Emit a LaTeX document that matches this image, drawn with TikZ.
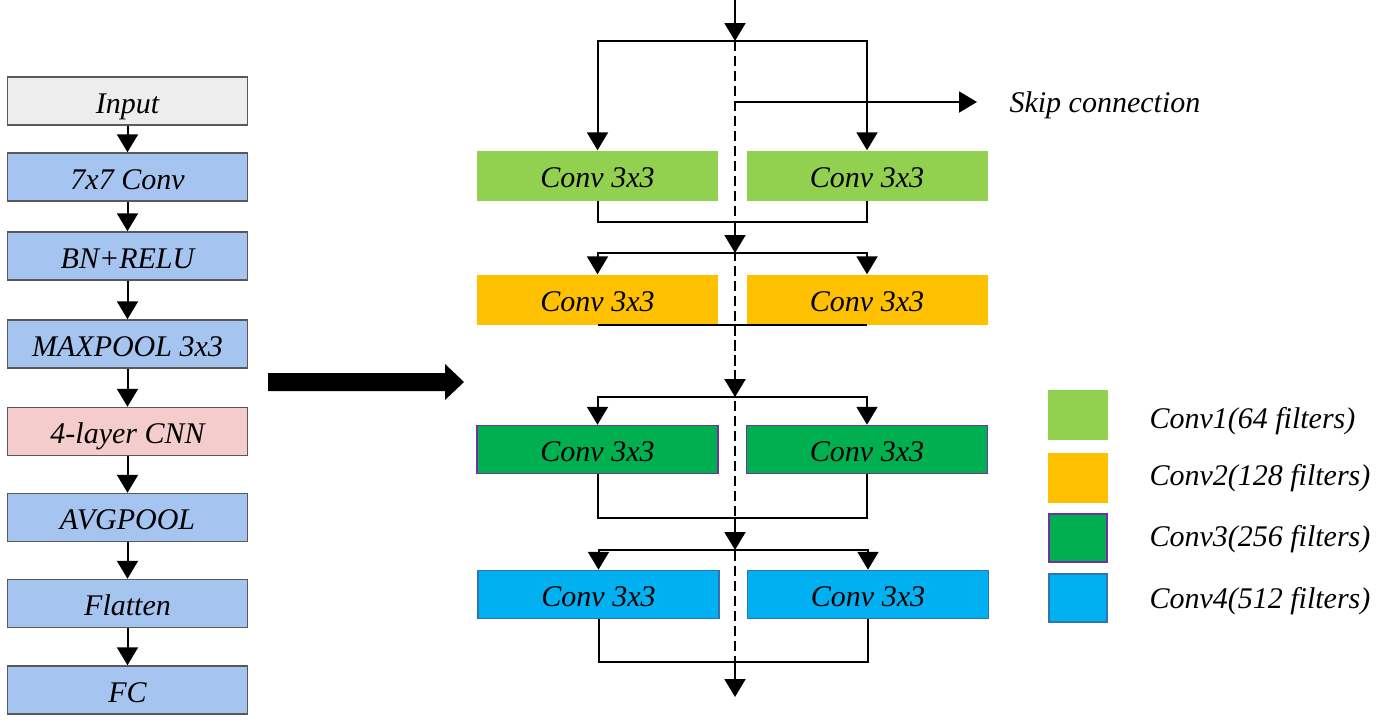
\documentclass[tikz,border=0pt]{standalone}
\usepackage{fontspec}
\setmainfont{Liberation Serif}
\usetikzlibrary{arrows.meta}
\definecolor{lgray}{HTML}{EDEDED}
\definecolor{lblue}{HTML}{A6C4F0}
\definecolor{lpink}{HTML}{F4CCCC}
\definecolor{bord}{HTML}{595959}
\definecolor{cgreen}{HTML}{92D050}
\definecolor{corange}{HTML}{FFC000}
\definecolor{cdgreen}{HTML}{00B050}
\definecolor{cpurple}{HTML}{7030A0}
\definecolor{cblue}{HTML}{00B0F0}
\definecolor{cbblue}{HTML}{2E75B6}
\tikzset{
  txt/.style={font=\fontsize{30}{33}\selectfont\itshape, text height=26pt, text depth=2pt},
  lbox/.style={txt, draw=bord, line width=1.5pt, minimum width=240pt, minimum height=48pt, inner sep=0pt},
  cbox/.style={txt, minimum width=241pt, minimum height=50pt, inner sep=0pt},
  legbox/.style={minimum width=60pt, minimum height=50pt, inner sep=0pt},
  arr/.style={line width=2pt, -{Triangle[width=21pt,length=18pt]}},
  ln/.style={line width=2pt},
}
\begin{document}
\begin{tikzpicture}[x=1pt,y=-1pt]
\useasboundingbox (0,0) rectangle (1376,721);
% left column
\node[lbox, fill=lgray] (in) at (127.5,101) {Input};
\node[lbox, fill=lblue] (c7) at (127.5,177) {7x7 Conv};
\node[lbox, fill=lblue] (bn) at (127.5,256) {BN+RELU};
\node[lbox, fill=lblue] (mp) at (127.5,344) {MAXPOOL 3x3};
\node[lbox, fill=lpink] (cnn) at (127.5,431.5) {4-layer CNN};
\node[lbox, fill=lblue] (ap) at (127.5,517.5) {AVGPOOL};
\node[lbox, fill=lblue] (fl) at (127.5,603.5) {Flatten};
\node[lbox, fill=lblue] (fc) at (127.5,690) {FC};
\draw[arr] (in) -- (c7);
\draw[arr] (c7) -- (bn);
\draw[arr] (bn) -- (mp);
\draw[arr] (mp) -- (cnn);
\draw[arr] (cnn) -- (ap);
\draw[arr] (ap) -- (fl);
\draw[arr] (fl) -- (fc);
% big arrow
\fill (268,373) -- (445,373) -- (445,364) -- (464,382) -- (445,400) -- (445,391) -- (268,391) -- cycle;
% middle boxes
\node[cbox, fill=cgreen] (g1) at (597.5,175.5) {Conv 3x3};
\node[cbox, fill=cgreen] (g2) at (867,175.5) {Conv 3x3};
\node[cbox, fill=corange] (o1) at (597.5,299.5) {Conv 3x3};
\node[cbox, fill=corange] (o2) at (867,299.5) {Conv 3x3};
\node[cbox, fill=cdgreen, draw=cpurple, line width=1.5pt, minimum height=48pt] (d1) at (597.5,449.5) {Conv 3x3};
\node[cbox, fill=cdgreen, draw=cpurple, line width=1.5pt, minimum height=48pt] (d2) at (867,449.5) {Conv 3x3};
\node[cbox, fill=cblue, draw=cbblue, line width=1.5pt, minimum height=48pt] (b1) at (598.5,594.5) {Conv 3x3};
\node[cbox, fill=cblue, draw=cbblue, line width=1.5pt, minimum height=48pt] (b2) at (868,594.5) {Conv 3x3};
% coordinates on the spine
\coordinate (top) at (735,0);
\coordinate (s1) at (735,41);
\coordinate (sk) at (735,102);
\coordinate (skend) at (977,102);
\coordinate (m1) at (735,222);
\coordinate (s2) at (735,253);
\coordinate (m2) at (735,325);
\coordinate (s3) at (735,397);
\coordinate (m3) at (735,518);
\coordinate (s4) at (735,550);
\coordinate (m4) at (735,662);
\coordinate (bot) at (735,697);
% dashed spine
\draw[line width=2.4pt, dash pattern=on 10pt off 5pt] (s1) -- (m4);
% flow
\draw[arr] (top) -- (s1);
\draw[arr] (s1) -| (g1.north);
\draw[arr] (s1) -| (g2.north);
\draw[arr] (sk) -- (skend);
\node[txt, anchor=west] (skip) at (1006,100) {Skip connection};
\draw[ln] (g1.south) |- (m1) -| (g2.south);
\draw[arr] (m1) -- (s2);
\draw[arr] (s2) -| (o1.north);
\draw[arr] (s2) -| (o2.north);
\draw[ln] (o1.south) -- (o2.south);
\draw[arr, line width=2.4pt, dash pattern=on 10pt off 5pt] (m2) -- (s3);
\draw[arr] (s3) -| (d1.north);
\draw[arr] (s3) -| (d2.north);
\draw[ln] (d1.south) |- (m3) -| (d2.south);
\draw[arr] (m3) -- (s4);
\draw[arr] (s4) -| (b1.north);
\draw[arr] (s4) -| (b2.north);
\draw[ln] (b1.south) |- (m4) -| (b2.south);
\draw[arr] (m4) -- (bot);
% legend
\node[legbox, fill=cgreen] (k1) at (1078,415) {};
\node[legbox, fill=corange] (k2) at (1078,477.5) {};
\node[legbox, fill=cdgreen, draw=cpurple, line width=1.5pt, minimum width=58pt, minimum height=48pt] (k3) at (1078,538) {};
\node[legbox, fill=cblue, draw=cbblue, line width=1.5pt, minimum width=58pt, minimum height=48pt] (k4) at (1078,598) {};
\node[txt, anchor=west] (t1) at (1146,416) {Conv1(64 filters)};
\node[txt, anchor=west] (t2) at (1146,473) {Conv2(128 filters)};
\node[txt, anchor=west] (t3) at (1146,534) {Conv3(256 filters)};
\node[txt, anchor=west] (t4) at (1146,596) {Conv4(512 filters)};
\end{tikzpicture}
\end{document}
